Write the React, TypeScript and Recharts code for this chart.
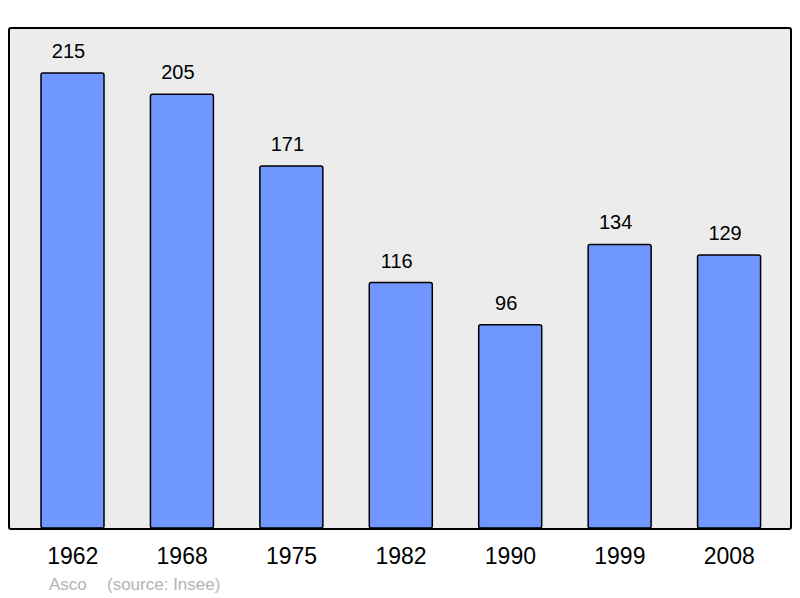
import { BarChart, Bar, XAxis, YAxis, LabelList } from 'recharts';

const years = ['1962', '1968', '1975', '1982', '1990', '1999', '2008'];
const population = [215, 205, 171, 116, 96, 134, 129];
const commune = 'Asco';
const sourceNote = '(source: Insee)';

const data = years.map((year, i) => ({ year, population: population[i] }));

const font = '"Liberation Sans", Arial, sans-serif';

const renderValue = (props: any) => {
    const { x, y, width, value } = props;
    return (
        <text x={Number(x) + Number(width) / 2 - 4} y={Number(y) - 15} textAnchor="middle" fill="#000" fontSize={20} fontFamily={font}>
            {value}
        </text>
    );
};

export default function App() {
    return (
        <div style={{ position: 'absolute', left: 0, top: 0, width: 800, height: 598, background: '#ffffff', fontFamily: font }}>
            <div
                style={{
                    position: 'absolute',
                    left: 8,
                    top: 27,
                    width: 784,
                    height: 503,
                    boxSizing: 'border-box',
                    border: '2px solid #000',
                    borderRadius: 3,
                    background: '#ececec',
                }}
            />
            <div style={{ position: 'absolute', left: 0, top: 0 }}>
                <BarChart width={800} height={598} data={data} margin={{ top: 73, right: 16, left: 18, bottom: 40 }}>
                    <XAxis
                        dataKey="year"
                        axisLine={false}
                        tickLine={false}
                        tickSize={0}
                        tickMargin={20}
                        interval={0}
                        height={30}
                        tick={{ fill: '#000', fontSize: 23, fontFamily: font }}
                    />
                    <YAxis hide domain={[0, 215]} />
                    <Bar dataKey="population" barSize={63} fill="#7097ff" stroke="#000" strokeWidth={1.5} radius={2} isAnimationActive={false}>
                        <LabelList dataKey="population" content={renderValue} />
                    </Bar>
                </BarChart>
            </div>
            <div style={{ position: 'absolute', left: 49, top: 576, fontSize: 17, lineHeight: '17px', color: '#b3b3b3' }}>{commune}</div>
            <div style={{ position: 'absolute', left: 107, top: 576, fontSize: 17, lineHeight: '17px', color: '#b3b3b3' }}>{sourceNote}</div>
        </div>
    );
}
